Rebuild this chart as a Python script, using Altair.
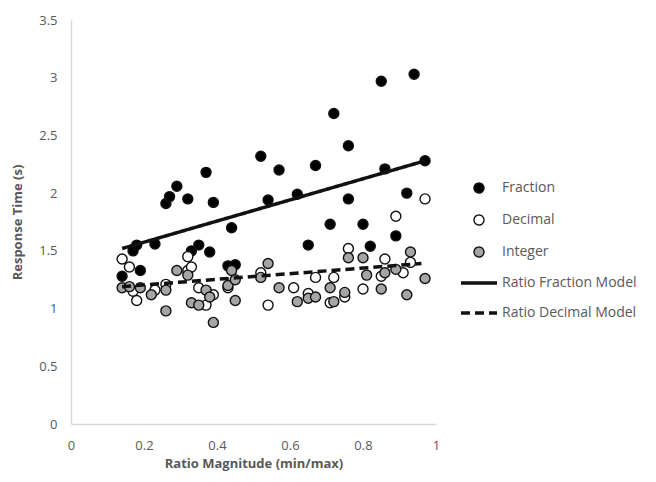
import altair as alt
import pandas as pd

# ---- data ----
frac_x = [0.14, 0.17, 0.18, 0.19, 0.23, 0.26, 0.27, 0.29, 0.32, 0.33, 0.35, 0.37, 0.38, 0.39,
          0.43, 0.44, 0.45, 0.52, 0.54, 0.57, 0.62, 0.65, 0.67, 0.71, 0.72, 0.76, 0.76, 0.80,
          0.82, 0.85, 0.86, 0.89, 0.92, 0.94, 0.97]
frac_y = [1.28, 1.50, 1.55, 1.33, 1.56, 1.91, 1.97, 2.06, 1.95, 1.50, 1.55, 2.18, 1.49, 1.92,
          1.37, 1.70, 1.38, 2.32, 1.94, 2.20, 1.99, 1.55, 2.24, 1.73, 2.69, 2.41, 1.95, 1.73,
          1.54, 2.97, 2.21, 1.63, 2.00, 3.03, 2.28]

dec_x = [0.14, 0.16, 0.17, 0.18, 0.23, 0.26, 0.32, 0.32, 0.33, 0.35, 0.37, 0.39, 0.43, 0.52,
         0.54, 0.61, 0.65, 0.67, 0.71, 0.72, 0.75, 0.76, 0.80, 0.85, 0.86, 0.89, 0.91, 0.93, 0.97]
dec_y = [1.43, 1.36, 1.15, 1.07, 1.16, 1.21, 1.45, 1.33, 1.36, 1.18, 1.03, 1.12, 1.18, 1.31,
         1.03, 1.18, 1.13, 1.27, 1.05, 1.27, 1.10, 1.52, 1.17, 1.28, 1.43, 1.80, 1.31, 1.40, 1.95]

int_x = [0.14, 0.16, 0.19, 0.22, 0.26, 0.26, 0.29, 0.32, 0.33, 0.35, 0.37, 0.38, 0.39, 0.43,
         0.44, 0.45, 0.45, 0.52, 0.54, 0.57, 0.62, 0.65, 0.67, 0.71, 0.72, 0.75, 0.76, 0.80,
         0.81, 0.85, 0.86, 0.89, 0.92, 0.93, 0.97]
int_y = [1.18, 1.19, 1.18, 1.12, 1.16, 0.98, 1.33, 1.29, 1.05, 1.03, 1.16, 1.10, 0.88, 1.20,
         1.33, 1.25, 1.07, 1.27, 1.39, 1.18, 1.06, 1.09, 1.10, 1.18, 1.06, 1.14, 1.44, 1.44,
         1.29, 1.17, 1.31, 1.34, 1.12, 1.49, 1.26]

model_names = ["Ratio Fraction Model", "Ratio Decimal Model"]
model_x = [[0.14, 0.97], [0.14, 0.96]]
model_y = [[1.52, 2.28], [1.19, 1.39]]

series = ["Fraction", "Decimal", "Integer", "Ratio Fraction Model", "Ratio Decimal Model"]
x_ticks = [0, 0.2, 0.4, 0.6, 0.8, 1]
y_ticks = [0, 0.5, 1, 1.5, 2, 2.5, 3, 3.5]

# ---- tables ----
rows = []
for name, xs, ys in [("Fraction", frac_x, frac_y), ("Decimal", dec_x, dec_y), ("Integer", int_x, int_y)]:
    for a, b in zip(xs, ys):
        rows.append({"x": a, "y": b, "series": name})
pts = pd.DataFrame(rows)

lrows = []
for name, xs, ys in zip(model_names, model_x, model_y):
    for a, b in zip(xs, ys):
        lrows.append({"x": a, "y": b, "series": name})
lines = pd.DataFrame(lrows)

FONT = "Open Sans"
GREY = "#595959"
LINE_PATH = "M-3.6,0H3.6"

xenc = alt.X("x:Q", scale=alt.Scale(domain=[0, 1], nice=False),
             axis=alt.Axis(values=x_ticks, format="~g", title="Ratio Magnitude (min/max)",
                           grid=False, ticks=False, domainColor="#d9d9d9", domainWidth=1.5,
                           labelFlush=False, labelPadding=15, titlePadding=5))
yenc = alt.Y("y:Q", scale=alt.Scale(domain=[0, 3.5], nice=False),
             axis=alt.Axis(values=y_ticks, format="~g", title="Response Time (s)",
                           grid=False, ticks=False, domainColor="#d9d9d9", domainWidth=1.5,
                           labelFlush=False, labelPadding=14, titlePadding=14))

legend = alt.Legend(
    title=None, orient="none", legendX=401, legendY=161, padding=0,
    labelFont=FONT, labelFontSize=14, labelColor=GREY, labelOffset=16, labelLimit=200,
    rowPadding=16, symbolSize=100,
)

stroke_enc = alt.Stroke("series:N", scale=alt.Scale(domain=series, range=["#111111"] * 5),
                        legend=legend)

points = alt.Chart(pts).mark_point(filled=True, size=100, opacity=1, strokeWidth=1.4).encode(
    x=xenc, y=yenc,
    fill=alt.Fill("series:N", scale=alt.Scale(domain=series,
                  range=["#000000", "#ffffff", "#a5a5a5", "#000000", "#000000"]), legend=legend),
    shape=alt.Shape("series:N", scale=alt.Scale(domain=series,
                    range=["circle", "circle", "circle", LINE_PATH, LINE_PATH]), legend=legend),
    stroke=stroke_enc,
)

model_lines = alt.Chart(lines).mark_line(strokeWidth=3.5).encode(
    x=xenc, y=yenc,
    stroke=stroke_enc,
    strokeDash=alt.StrokeDash("series:N", scale=alt.Scale(domain=series,
                              range=[[1, 0], [1, 0], [1, 0], [1, 0], [9, 5]]), legend=legend),
    strokeWidth=alt.StrokeWidth("series:N", scale=alt.Scale(type="ordinal", domain=series,
                                range=[1.4, 1.4, 1.4, 3.5, 3.5]), legend=legend),
)

chart = alt.layer(points, model_lines).properties(
    width=365, height=404,
    autosize="none",
    padding={"left": 63, "top": 12, "right": 212, "bottom": 50},
).configure_view(stroke=None).configure_axis(
    labelFont=FONT, labelFontSize=13, labelColor=GREY,
    titleFont=FONT, titleFontSize=13, titleColor=GREY, titleFontWeight="bold",
)

chart.save("out.html", embed_options={"renderer": "svg", "actions": False})
